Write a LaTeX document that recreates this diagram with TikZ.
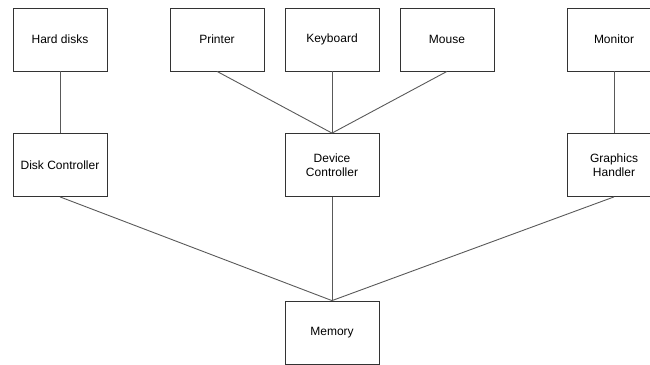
\documentclass[tikz,border=0pt]{standalone}
\usepackage{fontspec}
\setmainfont{Liberation Sans}
\begin{document}
\begin{tikzpicture}[x=1pt,y=-1pt,
    unit/.style={draw=black!80,line width=0.8pt,minimum width=94pt,minimum height=63pt,
        align=center,font=\fontsize{12}{14.5}\selectfont,inner sep=0pt},
    link/.style={draw=black!65,line width=0.9pt}]
        \useasboundingbox (0,0) rectangle (650,364);
        \node[unit] (disks) at (60,39.5) {Hard disks};
        \node[unit] (printer) at (217,39.5) {Printer};
        \node[unit] (keyboard) at (332,39.5) {Keyboard};
        \node[unit] (mouse) at (447,39.5) {Mouse};
        \node[unit] (monitor) at (614,39.5) {Monitor};
        \node[unit] (diskctl) at (60,165) {Disk Controller};
        \node[unit] (devctl) at (332,165) {Device\\Controller};
        \node[unit] (gfx) at (614,165) {Graphics\\Handler};
        \node[unit] (memory) at (332,332.5) {Memory};
        \draw[link] (disks.south) -- (diskctl.north);
        \draw[link] (printer.south) -- (devctl.north);
        \draw[link] (keyboard.south) -- (devctl.north);
        \draw[link] (mouse.south) -- (devctl.north);
        \draw[link] (monitor.south) -- (gfx.north);
        \draw[link] (diskctl.south) -- (memory.north);
        \draw[link] (devctl.south) -- (memory.north);
        \draw[link] (gfx.south) -- (memory.north);
    \end{tikzpicture}
\end{document}
